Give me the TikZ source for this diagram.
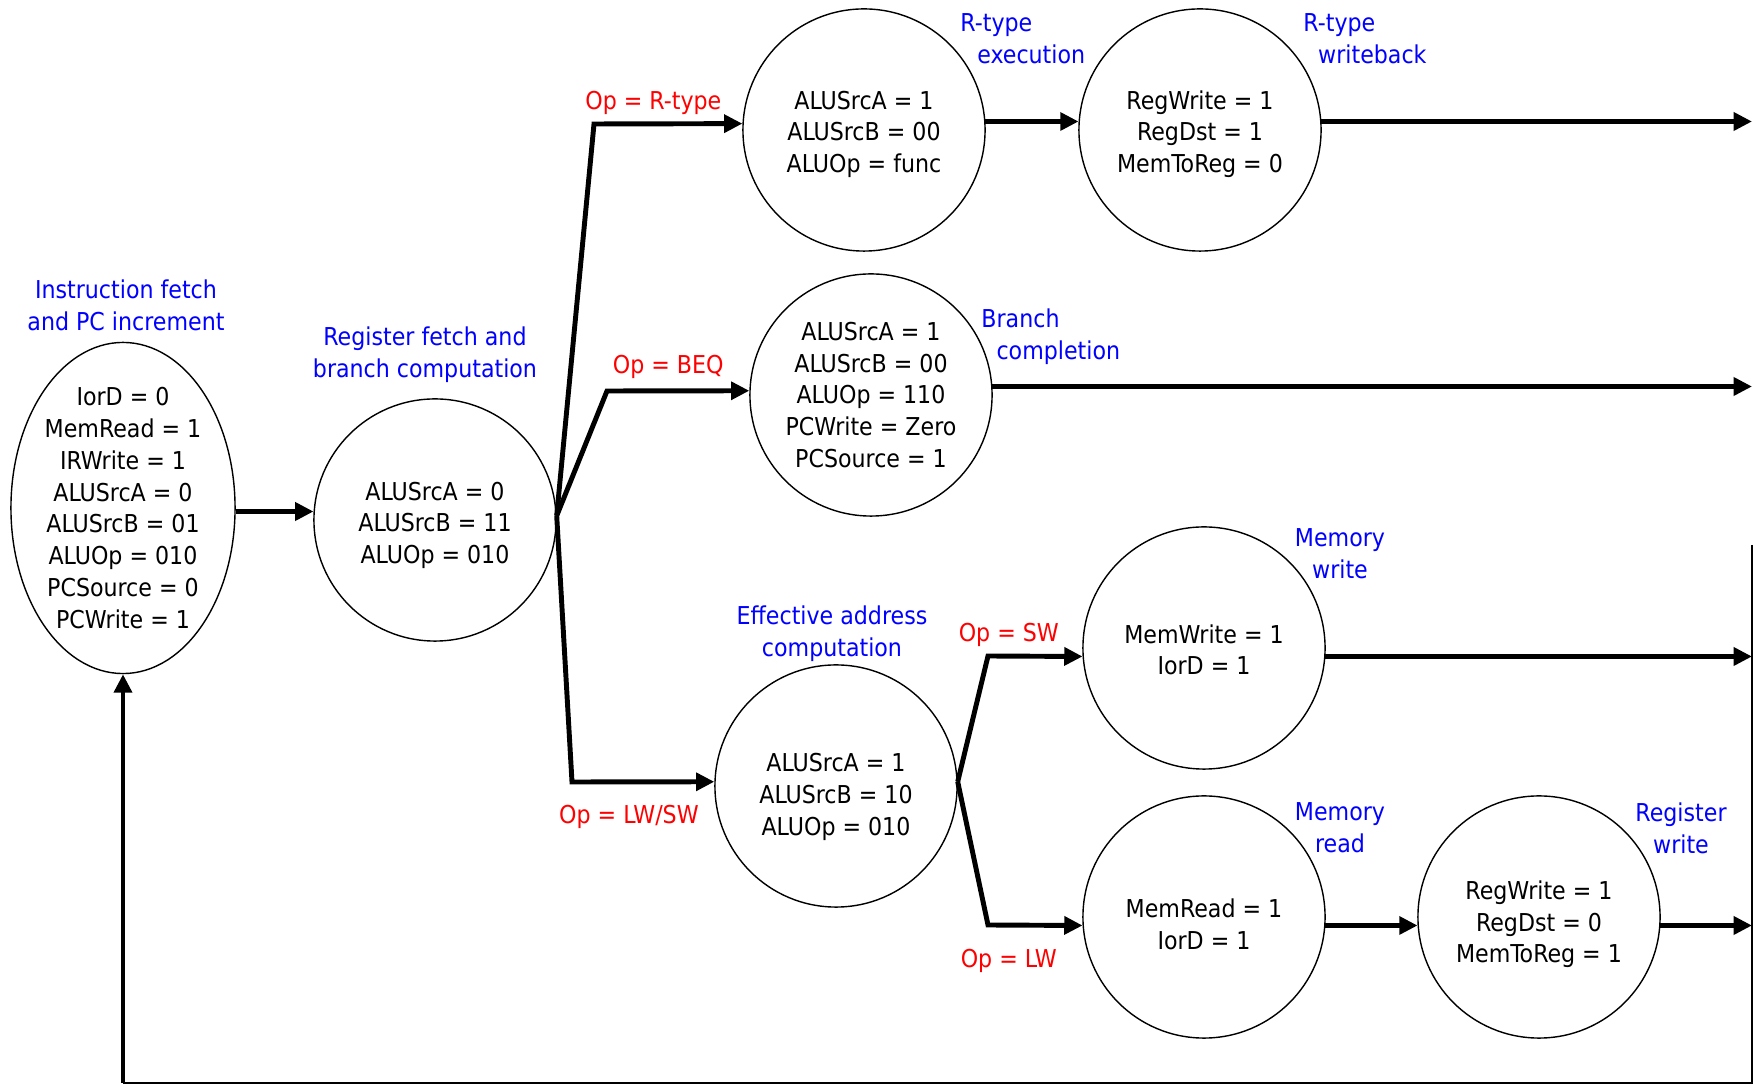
\documentclass[tikz,border=0pt]{standalone}
\usepackage{fontspec}
\setmainfont{DejaVu Sans Condensed}
\usetikzlibrary{arrows.meta,shapes.geometric}

\begin{document}
\begin{tikzpicture}[x=0.01cm,y=-0.01cm,
    font=\fontsize{7}{9.07}\selectfont,
    state/.style={draw,circle,minimum size=2.42cm,inner sep=0pt,align=center,
      execute at begin node={\rule{0pt}{#1}}},
    state/.default=0pt,
    flow/.style={line width=1.4pt,-{Triangle[length=5.2pt,width=5pt]}},
    cond/.style={text=red},
    phase/.style={text=blue,align=center}]
    \useasboundingbox (0,0) rectangle (1754,1086);
    \node[draw,ellipse,minimum width=2.24cm,inner xsep=0pt,inner ysep=-1.1pt,align=center] (fetch) at (123,508)
    {IorD = 0\\MemRead = 1\\IRWrite = 1\\ALUSrcA = 0\\ALUSrcB = 01\\ALUOp = 010\\PCSource = 0\\PCWrite = 1};
    \node[state=26.4pt] (regf) at (435,520) {ALUSrcA = 0\\ALUSrcB = 11\\ALUOp = 010};
    \node[state=25.8pt] (rexe) at (864,130) {ALUSrcA = 1\\ALUSrcB = 00\\ALUOp = func};
    \node[state=25.8pt] (rwb) at (1200,130) {RegWrite = 1\\RegDst = 1\\MemToReg = 0};
    \node[state] (brc) at (871,395) {ALUSrcA = 1\\ALUSrcB = 00\\ALUOp = 110\\PCWrite = Zero\\PCSource = 1};
    \node[state=29.6pt] (eff) at (836,786) {ALUSrcA = 1\\ALUSrcB = 10\\ALUOp = 010};
    \node[state=15.4pt] (mwr) at (1204,648) {MemWrite = 1\\IorD = 1};
    \node[state=18.6pt] (mrd) at (1204,917) {MemRead = 1\\IorD = 1};
    \node[state=27.6pt] (rgw) at (1539,917) {RegWrite = 1\\RegDst = 0\\MemToReg = 1};
    % state names
    \node[phase] (lfetch) at (126,305) {Instruction fetch\\and PC increment};
    \node[phase] (lregf) at (425,355) {Register fetch and\\branch computation};
    \node[phase,align=left,anchor=west] (lrexe) at (948,39) {R-type\\\hspace{4.8pt}execution};
    \node[phase,align=left,anchor=west] (lrwb) at (1291,39) {R-type\\\hspace{4.2pt}writeback};
    \node[phase,align=left,anchor=west] (lbrc) at (969,337) {Branch\\\hspace{4.3pt}completion};
    \node[phase] (leff) at (832,634) {Effective address\\computation};
    \node[phase] (lmwr) at (1340,554) {Memory\\write};
    \node[phase] (lmrd) at (1340,828) {Memory\\read};
    \node[phase] (lrgw) at (1681,828) {Register\\write};
    % bends and the right rim
    \coordinate (rcorner) at (594,124);
    \coordinate (bcorner) at (607,391);
    \coordinate (mcorner) at (572,782);
    \coordinate (swcorner) at (988,656);
    \coordinate (lwcorner) at (988,925);
    \coordinate (rim) at (1752,0);
    \coordinate (looptop) at (1752,545);
    \coordinate (loopbr) at (1752,1083);
    \draw[flow] (fetch.east |- regf.176) -- (regf.176);
    \draw[flow] (regf.2) -- (rcorner) -- node[cond,above,yshift=-1.3pt,pos=0.4]{Op = R-type} (rexe.177);
    \draw[flow] (regf.2) -- (bcorner) -- node[cond,above,yshift=-0.6pt,pos=0.43]{Op = BEQ} (brc.178);
    \draw[flow] (regf.2) -- (mcorner) -- node[cond,below=2.6pt,pos=0.4]{Op = LW/SW} (eff.178);
    \draw[flow] (rexe.4) -- (rwb.176);
    \draw[flow] (eff.2) -- (swcorner) -- node[cond,above,yshift=-1.4pt,pos=0.22]{Op = SW} (mwr.184);
    \draw[flow] (eff.2) -- (lwcorner) -- node[cond,below=2.8pt,pos=0.22]{Op = LW} (mrd.184);
    \draw[flow] (mrd.356) -- (rgw.184);
    \draw[flow] (rwb.4) -- (rwb.4 -| rim);
    \draw[flow] (brc.4) -- (brc.4 -| rim);
    \draw[flow] (mwr.356) -- (mwr.356 -| rim);
    \draw[flow] (rgw.356) -- (rgw.356 -| rim);
    \draw[line width=0.3pt] (looptop) -- (loopbr) -- (fetch.south |- loopbr);
    \draw[flow] (fetch.south |- loopbr) -- (fetch.south);
\end{tikzpicture}
\end{document}
